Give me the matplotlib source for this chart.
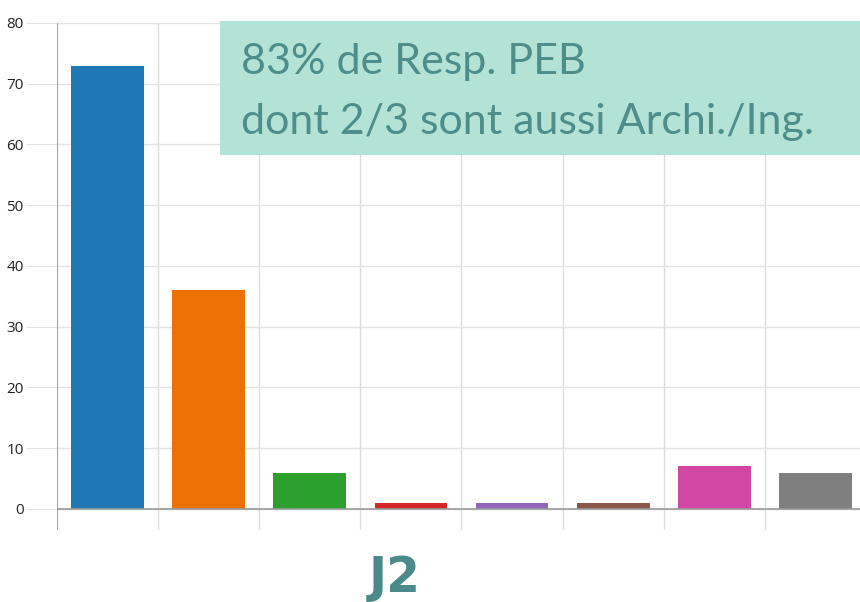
import matplotlib
matplotlib.use("Agg")
import matplotlib.pyplot as plt
from matplotlib.patches import Rectangle

# Data
categories = ["A", "B", "C", "D", "E", "F", "G", "H"]
values = [73, 36, 6, 1, 1, 1, 7, 6]
colors = ["#1f77b4", "#ec7206", "#2ca02c", "#d62728",
          "#9467bd", "#8c564b", "#d147a3", "#7f7f7f"]
yticks = [0, 10, 20, 30, 40, 50, 60, 70, 80]
note_lines = ["83% de Resp. PEB", "dont 2/3 sont aussi Archi./Ing."]
title = "J2"

W, H = 860, 602
fig = plt.figure(figsize=(W / 100, H / 100), dpi=100)

# axes in pixel units -> figure fraction
left, right, top, bottom = 57, 866, 23, 530
ax = fig.add_axes([left / W, 1 - bottom / H, (right - left) / W, (bottom - top) / H])

x = list(range(len(categories)))
ax.bar(x, values, width=0.72, color=colors, zorder=3)

ax.set_xlim(-0.5, len(categories) - 0.5)
ax.set_ylim(-3.46, 80)

# grid
for i in range(len(categories) + 1):
    ax.axvline(i - 0.5, color="#dddddd", lw=1, zorder=1)
for t in yticks:
    ax.axhline(t, color="#e3e3e3", lw=1, zorder=1)
ax.axhline(0, color="#999999", lw=1.2, zorder=4)
ax.axvline(-0.5, color="#999999", lw=1.2, zorder=4)

ax.set_yticks(yticks)
ax.set_yticklabels([str(t) for t in yticks], fontsize=11, color="#222222",
                   family="Open Sans")
ax.tick_params(axis="y", length=22, color="#e3e3e3", pad=2)
ax.set_xticks([])
for s in ax.spines.values():
    s.set_visible(False)

# annotation box
bx0, bx1, by0, by1 = 220, 860, 21, 155
fig.patches.append(Rectangle((bx0 / W, 1 - by1 / H), (bx1 - bx0) / W, (by1 - by0) / H,
                             transform=fig.transFigure, facecolor="#b3e3d6",
                             edgecolor="none", zorder=10))
fig.text(241 / W, 1 - 62 / H, note_lines[0], fontsize=31, color="#4e8e8a",
         family="Lato", va="center", ha="left", zorder=11)
fig.text(241 / W, 1 - 122 / H, note_lines[1], fontsize=31, color="#4e8e8a",
         family="Lato", va="center", ha="left", zorder=11)

fig.text(395 / W, 1 - 578 / H, title, fontsize=35, fontweight="bold",
         color="#4a8a8a", ha="center", va="center")

fig.savefig("out.png", dpi=100)
